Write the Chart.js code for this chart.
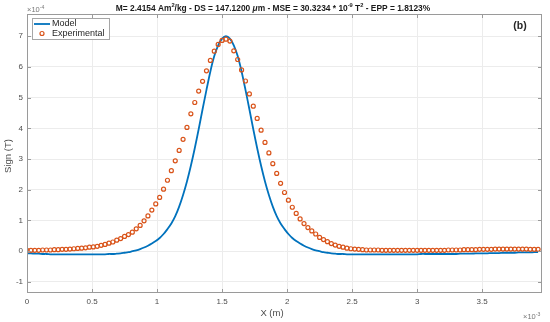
<!DOCTYPE html>
<html>
<head>
<meta charset="utf-8">
<script src="https://cdn.jsdelivr.net/npm/chart.js@4.4.0/dist/chart.umd.min.js"></script>
<style>
    html, body { margin: 0; padding: 0; background: #fff; }
    #signalChart { display: block; }
</style>
</head>
<body>
<canvas id="signalChart" width="550" height="322"></canvas>
<script>
// Position along the scan, in units of 1e-3 m
const positions = [
    0.00, 0.03, 0.06, 0.09, 0.12, 0.15, 0.18, 0.21, 0.24, 0.27,
    0.30, 0.33, 0.36, 0.39, 0.42, 0.45, 0.48, 0.51, 0.54, 0.57,
    0.60, 0.63, 0.66, 0.69, 0.72, 0.75, 0.78, 0.81, 0.84, 0.87,
    0.90, 0.93, 0.96, 0.99, 1.02, 1.05, 1.08, 1.11, 1.14, 1.17,
    1.20, 1.23, 1.26, 1.29, 1.32, 1.35, 1.38, 1.41, 1.44, 1.47,
    1.50, 1.53, 1.56, 1.59, 1.62, 1.65, 1.68, 1.71, 1.74, 1.77,
    1.80, 1.83, 1.86, 1.89, 1.92, 1.95, 1.98, 2.01, 2.04, 2.07,
    2.10, 2.13, 2.16, 2.19, 2.22, 2.25, 2.28, 2.31, 2.34, 2.37,
    2.40, 2.43, 2.46, 2.49, 2.52, 2.55, 2.58, 2.61, 2.64, 2.67,
    2.70, 2.73, 2.76, 2.79, 2.82, 2.85, 2.88, 2.91, 2.94, 2.97,
    3.00, 3.03, 3.06, 3.09, 3.12, 3.15, 3.18, 3.21, 3.24, 3.27,
    3.30, 3.33, 3.36, 3.39, 3.42, 3.45, 3.48, 3.51, 3.54, 3.57,
    3.60, 3.63, 3.66, 3.69, 3.72, 3.75, 3.78, 3.81, 3.84, 3.87,
    3.90, 3.93
];

// Measured signal, in units of 1e-4 T
const experimental = [
    0.03, 0.03, 0.03, 0.03, 0.04, 0.04, 0.04, 0.05, 0.05, 0.06,
    0.06, 0.07, 0.08, 0.09, 0.10, 0.11, 0.13, 0.14, 0.16, 0.19,
    0.22, 0.26, 0.30, 0.36, 0.41, 0.48, 0.54, 0.62, 0.73, 0.84,
    0.99, 1.15, 1.34, 1.54, 1.75, 2.02, 2.31, 2.62, 2.94, 3.28,
    3.64, 4.03, 4.47, 4.84, 5.21, 5.53, 5.87, 6.21, 6.51, 6.73,
    6.86, 6.90, 6.84, 6.52, 6.24, 5.90, 5.54, 5.12, 4.72, 4.32,
    3.94, 3.54, 3.20, 2.85, 2.53, 2.21, 1.91, 1.66, 1.43, 1.23,
    1.05, 0.90, 0.77, 0.66, 0.56, 0.45, 0.38, 0.31, 0.25, 0.20,
    0.16, 0.13, 0.10, 0.08, 0.07, 0.06, 0.05, 0.04, 0.04, 0.04,
    0.04, 0.03, 0.03, 0.03, 0.03, 0.03, 0.03, 0.03, 0.03, 0.03,
    0.03, 0.03, 0.03, 0.03, 0.03, 0.03, 0.03, 0.03, 0.04, 0.04,
    0.04, 0.04, 0.05, 0.05, 0.05, 0.05, 0.06, 0.06, 0.06, 0.06,
    0.07, 0.07, 0.07, 0.07, 0.07, 0.07, 0.07, 0.07, 0.07, 0.06,
    0.06, 0.06
];

// Fitted model, in units of 1e-4 T
const model = [
    -0.07, -0.07, -0.08, -0.08, -0.09, -0.09, -0.10, -0.10, -0.10, -0.10,
    -0.10, -0.10, -0.10, -0.10, -0.10, -0.10, -0.10, -0.10, -0.10, -0.10,
    -0.10, -0.09, -0.09, -0.08, -0.07, -0.05, -0.03, 0.00, 0.03, 0.07,
    0.12, 0.18, 0.25, 0.33, 0.43, 0.56, 0.72, 0.90, 1.14, 1.45,
    1.83, 2.27, 2.78, 3.35, 3.97, 4.62, 5.25, 5.85, 6.35, 6.70,
    6.92, 7.00, 6.92, 6.70, 6.35, 5.85, 5.25, 4.62, 3.97, 3.35,
    2.78, 2.27, 1.83, 1.45, 1.14, 0.90, 0.72, 0.56, 0.43, 0.33,
    0.25, 0.18, 0.12, 0.07, 0.03, 0.00, -0.03, -0.05, -0.07, -0.08,
    -0.09, -0.09, -0.10, -0.10, -0.10, -0.10, -0.10, -0.10, -0.10, -0.10,
    -0.10, -0.10, -0.10, -0.10, -0.10, -0.10, -0.10, -0.10, -0.10, -0.10,
    -0.10, -0.09, -0.09, -0.09, -0.09, -0.09, -0.09, -0.09, -0.09, -0.09,
    -0.09, -0.08, -0.08, -0.08, -0.08, -0.07, -0.07, -0.07, -0.07, -0.06,
    -0.06, -0.06, -0.05, -0.05, -0.05, -0.05, -0.04, -0.04, -0.04, -0.04,
    -0.03, -0.03
];

const xTicks = [0, 0.5, 1, 1.5, 2, 2.5, 3, 3.5];
const yTicks = [-1, 0, 1, 2, 3, 4, 5, 6, 7];

const FONT = '"Liberation Sans", Arial, Helvetica, sans-serif';
const TEXT_COLOR = '#4d4d4d';
const AXIS_COLOR = '#9a9a9a';
const GRID_COLOR = '#ececec';
const MODEL_COLOR = '#0072BD';
const EXP_COLOR = '#D95319';

// Draw a run of text pieces, some raised as exponents or set in italic
function drawRich(ctx, parts, x, y, align, size, weight, color) {
    const fontFor = p => `${p.italic ? 'italic ' : ''}${weight} ${p.sup ? size * 0.68 : size}px ${FONT}`;
    let width = 0;
    parts.forEach(p => {
        ctx.font = fontFor(p);
        p.w = ctx.measureText(p.t).width;
        width += p.w;
    });
    let cx = align === 'center' ? x - width / 2 : x;
    ctx.fillStyle = color;
    ctx.textAlign = 'left';
    ctx.textBaseline = 'alphabetic';
    parts.forEach(p => {
        ctx.font = fontFor(p);
        ctx.fillText(p.t, cx, p.sup ? y - size * 0.42 : y);
        cx += p.w;
    });
}

// Box, inner ticks, titles, exponent notes and legend
const decorations = {
    id: 'decorations',
    afterDraw(chart) {
        const { ctx, chartArea: area, scales } = chart;
        const { left, right, top, bottom } = area;
        ctx.save();

        ctx.strokeStyle = AXIS_COLOR;
        ctx.lineWidth = 1;
        ctx.beginPath();
        xTicks.forEach(v => {
            const px = Math.round(scales.x.getPixelForValue(v)) + 0.5;
            ctx.moveTo(px, bottom); ctx.lineTo(px, bottom - 4);
            ctx.moveTo(px, top); ctx.lineTo(px, top + 4);
        });
        yTicks.forEach(v => {
            const py = Math.round(scales.y.getPixelForValue(v)) + 0.5;
            ctx.moveTo(left, py); ctx.lineTo(left + 4, py);
            ctx.moveTo(right, py); ctx.lineTo(right - 4, py);
        });
        ctx.stroke();
        ctx.strokeRect(left + 0.5, top + 0.5, right - left - 1, bottom - top - 1);

        // Title
        drawRich(ctx, [
            { t: 'M= 2.4154 Am' }, { t: '2', sup: true },
            { t: '/kg - DS = 147.1200 ' }, { t: 'μ', italic: true },
            { t: 'm - MSE = 30.3234 * 10' }, { t: '-9', sup: true },
            { t: ' T' }, { t: '2', sup: true },
            { t: ' - EPP = 1.8123%' }
        ], 273, 11, 'center', 8.4, 'bold', '#1a1a1a');

        drawRich(ctx, [{ t: '(b)' }], 520, 29, 'center', 10.5, 'bold', '#262626');

        // Exponent notes
        drawRich(ctx, [{ t: '×10' }, { t: '-4', sup: true }], 27, 12, 'left', 7.5, 'normal', '#777');
        drawRich(ctx, [{ t: '×10' }, { t: '-3', sup: true }], 523, 319, 'left', 7.5, 'normal', '#777');

        // Axis titles
        ctx.fillStyle = TEXT_COLOR;
        ctx.font = `9.5px ${FONT}`;
        ctx.textAlign = 'center';
        ctx.textBaseline = 'middle';
        ctx.fillText('X (m)', 272, 313);
        ctx.save();
        ctx.translate(8, 156);
        ctx.rotate(-Math.PI / 2);
        ctx.fillText('Sign (T)', 0, 0);
        ctx.restore();

        // Legend
        ctx.fillStyle = '#fff';
        ctx.fillRect(32.5, 18.5, 77, 21);
        ctx.strokeStyle = '#a6a6a6';
        ctx.lineWidth = 1;
        ctx.strokeRect(32.5, 18.5, 77, 21);

        const [modelSet, expSet] = chart.data.datasets;
        ctx.strokeStyle = MODEL_COLOR;
        ctx.lineWidth = 1.8;
        ctx.beginPath();
        ctx.moveTo(34, 24); ctx.lineTo(50, 24);
        ctx.stroke();
        ctx.strokeStyle = EXP_COLOR;
        ctx.lineWidth = 1.2;
        ctx.beginPath();
        ctx.arc(42, 33.5, 2, 0, Math.PI * 2);
        ctx.stroke();

        ctx.fillStyle = '#262626';
        ctx.font = `9px ${FONT}`;
        ctx.textAlign = 'left';
        ctx.textBaseline = 'middle';
        ctx.fillText(modelSet.label, 52, 24);
        ctx.fillText(expSet.label, 52, 33.5);

        ctx.restore();
    }
};

function buildChart() {
    const ctx = document.getElementById('signalChart').getContext('2d');
    const toPoints = values => positions.map((x, i) => ({ x: x, y: values[i] }));

    return new Chart(ctx, {
        type: 'scatter',
        data: {
            datasets: [
                {
                    label: 'Model',
                    data: toPoints(model),
                    showLine: true,
                    borderColor: MODEL_COLOR,
                    borderWidth: 1.8,
                    pointRadius: 0,
                    tension: 0.3,
                    order: 1
                },
                {
                    label: 'Experimental',
                    data: toPoints(experimental),
                    showLine: false,
                    pointRadius: 2,
                    pointBorderWidth: 1.2,
                    pointBorderColor: EXP_COLOR,
                    pointBackgroundColor: 'rgba(0,0,0,0)',
                    order: 0
                }
            ]
        },
        options: {
            responsive: false,
            animation: false,
            events: [],
            layout: { padding: { top: 14, right: 8, bottom: 0, left: 0 } },
            plugins: {
                legend: { display: false },
                tooltip: { enabled: false }
            },
            scales: {
                x: {
                    type: 'linear',
                    min: 0,
                    max: 3.96,
                    afterBuildTicks: scale => { scale.ticks = xTicks.map(v => ({ value: v })); },
                    afterFit: scale => { scale.height = 29; },
                    grid: { color: GRID_COLOR, drawTicks: false },
                    border: { display: false },
                    ticks: {
                        color: TEXT_COLOR,
                        font: { family: FONT, size: 8 },
                        padding: 4,
                        maxRotation: 0,
                        autoSkip: false,
                        callback: value => String(value)
                    }
                },
                y: {
                    type: 'linear',
                    min: -1.36,
                    max: 7.72,
                    afterBuildTicks: scale => { scale.ticks = yTicks.map(v => ({ value: v })); },
                    afterFit: scale => { scale.width = 27; },
                    grid: { color: GRID_COLOR, drawTicks: false },
                    border: { display: false },
                    ticks: {
                        color: TEXT_COLOR,
                        font: { family: FONT, size: 8 },
                        padding: 4,
                        autoSkip: false,
                        callback: value => String(value)
                    }
                }
            }
        },
        plugins: [decorations]
    });
}

buildChart();
</script>
</body>
</html>
